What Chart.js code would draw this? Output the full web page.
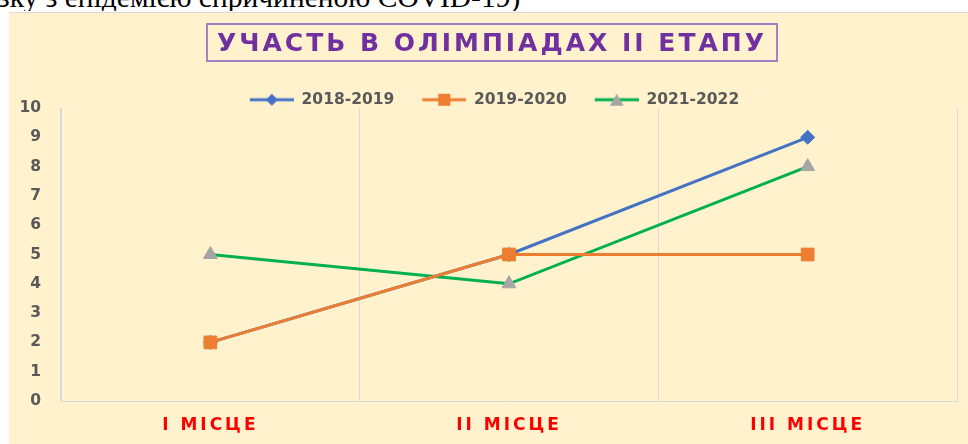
<!DOCTYPE html>
<html>
<head>
<meta charset="utf-8">
<script src="https://cdn.jsdelivr.net/npm/chart.js@4/dist/chart.umd.min.js"></script>
<style>
    body { margin: 0; background: #fff; width: 968px; height: 444px; overflow: hidden; position: relative; }
    .doc-line { position: absolute; left: 0; top: 0; width: 968px; height: 11px; overflow: hidden; }
    .doc-line span { position: absolute; left: -2px; top: -17px; font: 29.5px/29.5px "Liberation Serif", serif; color: #000; white-space: nowrap; }
    .chart-box { position: absolute; left: 9px; top: 12px; width: 959px; height: 432px; background: #FFF2CC; border-top: 1px solid #d9d9d9; box-sizing: border-box; }
    .chart-title { position: absolute; left: 197px; top: 10px; width: 572px; height: 39px; box-sizing: border-box; border: 2px solid #A77DC4;
        color: #7030A0; font: bold 25px "DejaVu Sans", sans-serif; letter-spacing: 3px; text-align: center; line-height: 35px; white-space: nowrap; }
    canvas { position: absolute; left: 0; top: 0; }
</style>
</head>
<body>
<div class="doc-line"><span>зку з епідемією спричиненою COVID-19)</span></div>
<div class="chart-box">
    <div style="position:absolute;left:0;top:-1px;width:959px;height:432px;">
        <canvas id="chart" width="959" height="432"></canvas>
    </div>
    <div class="chart-title">УЧАСТЬ В ОЛІМПІАДАХ ІІ ЕТАПУ</div>
</div>
<script>
const categories = ['I МІСЦЕ', 'II МІСЦЕ', 'III МІСЦЕ'];
const seriesNames = ['2018-2019', '2019-2020', '2021-2022'];
const values2018 = [2, 5, 9];
const values2019 = [2, 5, 5];
const values2021 = [5, 4, 8];

const lineColors = ['#4472C4', '#ED7D31', '#00B050'];
const markerColors = ['#4472C4', '#ED7D31', '#A5A5A5'];
const markerStyles = ['rectRot', 'rect', 'triangle'];

// legend icon: a short line with the marker in the middle
function legendIcon(i) {
    const c = document.createElement('canvas');
    c.width = 56; c.height = 16;
    const g = c.getContext('2d');
    g.strokeStyle = lineColors[i];
    g.lineWidth = 3;
    g.beginPath(); g.moveTo(12, 8); g.lineTo(56, 8); g.stroke();
    g.fillStyle = markerColors[i];
    g.beginPath();
    if (i === 0) { g.moveTo(34, 2); g.lineTo(40, 8); g.lineTo(34, 14); g.lineTo(28, 8); }
    else if (i === 1) { g.rect(28, 2, 12, 12); }
    else { g.moveTo(34, 2); g.lineTo(41, 14); g.lineTo(27, 14); }
    g.closePath(); g.fill();
    return c;
}

const xLabelSpacing = {
    id: 'xLabelSpacing',
    afterDatasetsDraw(chart) { chart.ctx.letterSpacing = '3px'; },
    afterDraw(chart) { chart.ctx.letterSpacing = '0px'; }
};

new Chart(document.getElementById('chart'), {
    type: 'line',
    data: {
        labels: categories,
        datasets: [
            { label: seriesNames[0], data: values2018, order: 2, borderColor: lineColors[0], backgroundColor: markerColors[0],
              pointStyle: markerStyles[0], pointRadius: 7, pointBorderColor: markerColors[0] },
            { label: seriesNames[1], data: values2019, order: 1, borderColor: lineColors[1], backgroundColor: markerColors[1],
              pointStyle: markerStyles[1], pointRadius: 9, pointBorderColor: markerColors[1] },
            { label: seriesNames[2], data: values2021, order: 3, borderColor: lineColors[2], backgroundColor: markerColors[2],
              pointStyle: markerStyles[2], pointRadius: 8, pointBorderColor: markerColors[2] }
        ]
    },
    options: {
        responsive: false,
        animation: false,
        layout: { padding: { top: 64, left: 11, right: 11, bottom: 10 } },
        elements: { line: { borderWidth: 3, tension: 0 }, point: { borderWidth: 1 } },
        plugins: {
            title: { display: false },
            tooltip: { enabled: false },
            legend: {
                position: 'top',
                maxHeight: 32,
                labels: {
                    usePointStyle: true,
                    pointStyleWidth: 56,
                    boxHeight: 16,
                    padding: 16,
                    color: '#595959',
                    font: { family: 'DejaVu Sans', size: 15.5, weight: 'bold' },
                    generateLabels(chart) {
                        return chart.data.datasets.map((ds, i) => ({
                            text: ds.label,
                            pointStyle: legendIcon(i),
                            fillStyle: markerColors[i],
                            strokeStyle: lineColors[i],
                            lineWidth: 0,
                            fontColor: '#595959',
                            hidden: false,
                            datasetIndex: i
                        }));
                    }
                }
            }
        },
        scales: {
            x: {
                offset: true,
                grid: { display: true, offset: true, color: '#D9D9D9', drawTicks: false },
                border: { display: true, color: '#D9D9D9' },
                ticks: { color: '#FF0000', padding: 14, z: 1, font: { family: 'DejaVu Sans', size: 17, weight: 'bold' } },
                afterFit(scale) { scale.height = 33; }
            },
            y: {
                min: 0,
                max: 10,
                grid: { display: false, drawTicks: false },
                border: { display: true, color: '#D9D9D9' },
                ticks: { stepSize: 1, color: '#595959', padding: 20, font: { family: 'DejaVu Sans', size: 15.5, weight: 'bold' } },
                afterFit(scale) { scale.width = 41; }
            }
        }
    },
    plugins: [xLabelSpacing]
});
</script>
</body>
</html>
